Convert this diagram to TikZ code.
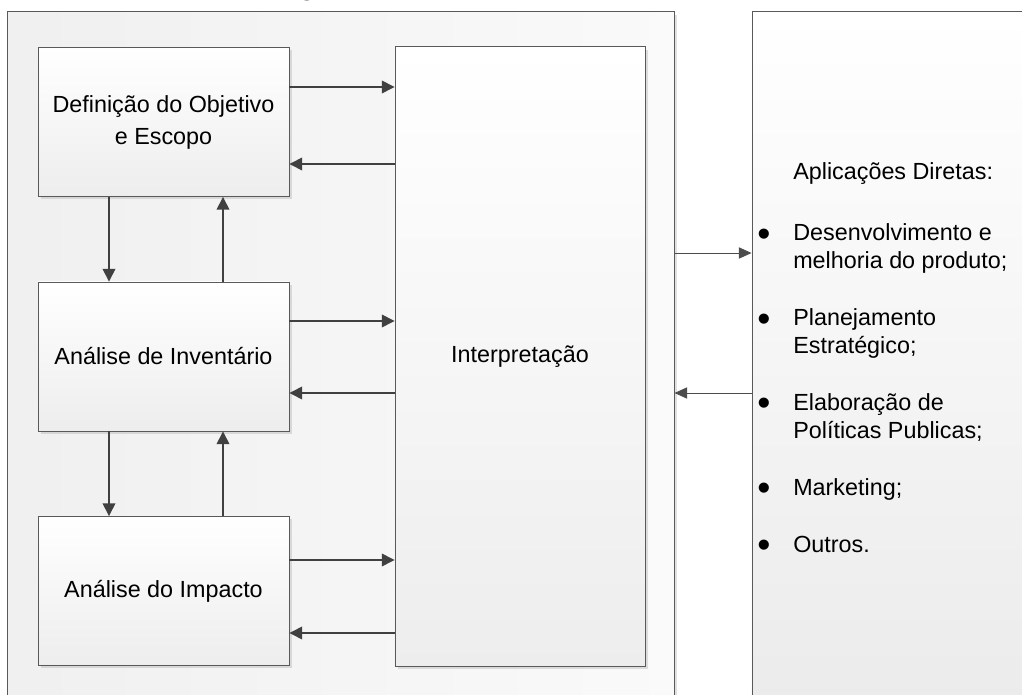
\documentclass[tikz,border=0pt]{standalone}
\usepackage{fontspec}
\setmainfont{Liberation Sans}
\usetikzlibrary{arrows.meta,shadows}

\newcommand{\boxfont}{\fontsize{16.6}{22.8}\selectfont}
\newcommand{\listfont}{\fontsize{16.6}{19.9}\selectfont}
\newcommand{\itemdot}{\raisebox{-3.6pt}{\scalebox{1.6}{\textbullet}}}

\tikzset{
	softshadow/.style={drop shadow={shadow xshift=2pt,shadow yshift=-2pt,fill=black!35,opacity=0.35}},
	stepbox/.style={draw=black!65, line width=0.6pt, top color=white, bottom color=black!7,
		minimum width=6.275cm, minimum height=3.725cm, align=center, font=\boxfont, softshadow},
	flow/.style={draw=black!75, line width=1pt, -{Triangle[length=9pt,width=9pt]}},
	thinflow/.style={draw=black!70, line width=0.7pt, -{Triangle[length=9pt,width=8pt]}},
}

\begin{document}
\begin{tikzpicture}[x=0.025cm,y=-0.025cm]
	\useasboundingbox (0,0) rectangle (1022,695);
	
	% containers
	\node[draw=black!65, line width=0.6pt, left color=black!6, right color=black!2,
		minimum width=16.65cm, minimum height=17.7cm, softshadow] (stage) at (341,366) {};
	\node[draw=black!65, line width=0.6pt, top color=white, bottom color=black!8,
		minimum width=7.2cm, minimum height=17.7cm] (apps) at (896,366) {};
	\node[anchor=base, inner sep=0pt, font=\bfseries\fontsize{18}{20}\selectfont] (title) at (307,-4.5) {g};
	
	% steps
	\node[stepbox] (goal) at (163.5,122) {Definição do Objetivo\\e Escopo};
	\node[stepbox] (inventory) at (163.5,356.5) {Análise de Inventário};
	\node[stepbox] (impact) at (163.5,591) {Análise do Impacto};
	\node[stepbox, minimum width=6.25cm, minimum height=15.475cm] (interp) at (520,356.5) {Interpretação};
	
	\draw[flow] (goal.east |- 0,87) -- (interp.west |- 0,87);
	\draw[flow] (interp.west |- 0,164) -- (goal.east |- 0,164);
	\draw[flow] (inventory.east |- 0,321) -- (interp.west |- 0,321);
	\draw[flow] (interp.west |- 0,393) -- (inventory.east |- 0,393);
	\draw[flow] (impact.east |- 0,560) -- (interp.west |- 0,560);
	\draw[flow] (interp.west |- 0,633) -- (impact.east |- 0,633);
	
	\draw[flow] (goal.south -| 109,0) -- (inventory.north -| 109,0);
	\draw[flow] (inventory.north -| 223,0) -- (goal.south -| 223,0);
	\draw[flow] (inventory.south -| 109,0) -- (impact.north -| 109,0);
	\draw[flow] (impact.north -| 223,0) -- (inventory.south -| 223,0);
	
	\draw[thinflow] (stage.east |- 0,253) -- (apps.west |- 0,253);
	\draw[thinflow] (apps.west |- 0,393) -- (stage.east |- 0,393);
	
	% list of uses
	\node[anchor=base west, inner sep=0pt, font=\listfont] (uses) at (757,180) {%
		\begin{tabular}[t]{@{}p{0.9cm}@{}l@{}}
			& Aplicações Diretas:\\[0.825cm]
			\itemdot & Desenvolvimento e\\
			& melhoria do produto;\\[0.725cm]
			\itemdot & Planejamento\\
			& Estratégico;\\[0.725cm]
			\itemdot & Elaboração de\\
			& Políticas Publicas;\\[0.725cm]
			\itemdot & Marketing;\\[0.725cm]
			\itemdot & Outros.
	\end{tabular}};
\end{tikzpicture}
\end{document}
